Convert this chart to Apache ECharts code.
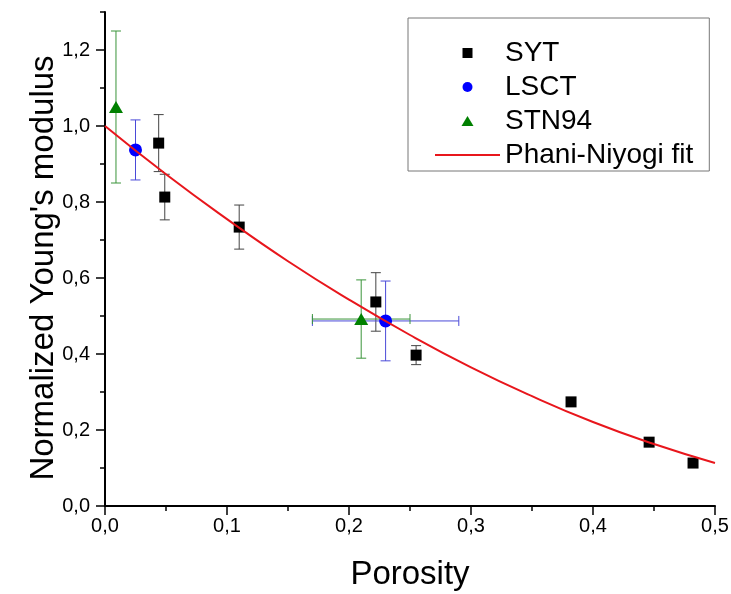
<!DOCTYPE html>
<html>
<head>
<meta charset="utf-8">
<script src="https://cdn.jsdelivr.net/npm/echarts@6/dist/echarts.min.js"></script>
<style>html,body{margin:0;padding:0;background:#fff}#c{width:731px;height:594px}</style>
</head>
<body>
<div id="c"></div>
<script>
// ---- data ----
const sytX = [0.044, 0.049, 0.110, 0.222, 0.255, 0.382, 0.446, 0.482];
const sytY = [0.955, 0.813, 0.734, 0.537, 0.397, 0.274, 0.168, 0.113];
const sytErrY = [0.075, 0.060, 0.058, 0.077, 0.025, 0, 0, 0];

const lsctX = [0.025, 0.230];
const lsctY = [0.937, 0.487];
const lsctErrY = [0.079, 0.105];
const lsctErrX = [0, 0.060];

const stnX = [0.009, 0.210];
const stnY = [1.050, 0.492];
const stnErrY = [0.200, 0.103];
const stnErrX = [0, 0.040];

const fitX = [0, 0.05, 0.10, 0.15, 0.20, 0.25, 0.30, 0.35, 0.40, 0.45, 0.50];
const fitY = [1.000, 0.873, 0.755, 0.644, 0.543, 0.450, 0.365, 0.289, 0.221, 0.163, 0.113];

const yMajorTicks = [0, 0.2, 0.4, 0.6, 0.8, 1.0, 1.2];
const yMinorTicks = [0.1, 0.3, 0.5, 0.7, 0.9, 1.1, 1.3];
const xMajorTicks = [0, 0.1, 0.2, 0.3, 0.4, 0.5];
const xMinorTicks = [0.05, 0.15, 0.25, 0.35, 0.45];

const seriesNames = ['SYT', 'LSCT', 'STN94', 'Phani-Niyogi fit'];

// ---- build ----
function zip(xs, ys) { return xs.map((x, i) => [x, ys[i]]); }
function errData(xs, ys, ey, ex) { return xs.map((x, i) => [x, ys[i], ey[i], ex ? ex[i] : 0]); }
const fmt = v => v.toFixed(1).replace('.', ',');
const FONT = '"Liberation Sans", Arial, sans-serif';

function errRender(color) {
  return function (params, api) {
    const x = api.value(0), y = api.value(1), ey = api.value(2), ex = api.value(3);
    const children = [];
    const style = { stroke: color, lineWidth: 1 };
    const cap = 5;
    if (ey > 0) {
      const top = api.coord([x, y + ey]);
      const bot = api.coord([x, y - ey]);
      children.push({ type: 'line', shape: { x1: top[0], y1: top[1], x2: bot[0], y2: bot[1] }, style });
      children.push({ type: 'line', shape: { x1: top[0] - cap, y1: top[1], x2: top[0] + cap, y2: top[1] }, style });
      children.push({ type: 'line', shape: { x1: bot[0] - cap, y1: bot[1], x2: bot[0] + cap, y2: bot[1] }, style });
    }
    if (ex > 0) {
      const l = api.coord([x - ex, y]);
      const r = api.coord([x + ex, y]);
      children.push({ type: 'line', shape: { x1: l[0], y1: l[1], x2: r[0], y2: r[1] }, style });
      children.push({ type: 'line', shape: { x1: l[0], y1: l[1] - cap, x2: l[0], y2: l[1] + cap }, style });
      children.push({ type: 'line', shape: { x1: r[0], y1: r[1] - cap, x2: r[0], y2: r[1] + cap }, style });
    }
    return { type: 'group', children };
  };
}

const legendIcons = [
  'path://M0,0L10,0L10,10L0,10Z',
  'path://M0,5A5,5,0,1,1,10,5A5,5,0,1,1,0,5Z',
  'path://M6,0L12,10L0,10Z',
  'path://M0,0L65,0L65,2L0,2Z'
];

const chart = echarts.init(document.getElementById('c'), null, { renderer: 'canvas' });
const axisLine = { show: true, lineStyle: { color: '#000', width: 2 } };
chart.setOption({
  animation: false,
  backgroundColor: '#fff',
  grid: { left: 105, right: 16, top: 12, bottom: 88, containLabel: false, outerBoundsMode: 'none' },
  legend: {
    data: seriesNames.map((n, i) => ({ name: n, icon: legendIcons[i] })),
    orient: 'vertical',
    left: 408, top: 18,
    padding: [21, 16, 2, 27],
    itemGap: 6,
    itemWidth: 65, itemHeight: 10,
    symbolKeepAspect: true,
    borderColor: '#777', borderWidth: 1,
    textStyle: { fontFamily: FONT, fontSize: 28, color: '#000' }
  },
  xAxis: [{
    type: 'value', min: 0, max: 0.5, interval: 0.1,
    splitLine: { show: false },
    axisLine,
    axisTick: { show: true, inside: false, length: 9, lineStyle: { color: '#000', width: 1.5 }, customValues: xMajorTicks },
    axisLabel: { margin: 10, fontFamily: FONT, fontSize: 20, color: '#000', formatter: fmt, customValues: xMajorTicks },
    name: 'Porosity', nameLocation: 'middle', nameGap: 52, nameMoveOverlap: false,
    nameTextStyle: { fontFamily: FONT, fontSize: 33, color: '#000' }
  }, {
    type: 'value', min: 0, max: 0.5, position: 'bottom',
    splitLine: { show: false }, axisLine: { show: false },
    axisTick: { show: true, length: 5, lineStyle: { color: '#000', width: 1.5 }, customValues: xMinorTicks },
    axisLabel: { show: false }
  }],
  yAxis: [{
    type: 'value', min: 0, max: 1.3,
    splitLine: { show: false },
    axisLine,
    axisTick: { show: true, length: 9, lineStyle: { color: '#000', width: 1.5 }, customValues: yMajorTicks },
    axisLabel: { margin: 15, fontFamily: FONT, fontSize: 20, color: '#000', formatter: fmt, customValues: yMajorTicks },
    name: "Normalized Young's modulus", nameLocation: 'middle', nameGap: 45, nameMoveOverlap: false,
    nameTextStyle: { fontFamily: FONT, fontSize: 33, color: '#000', padding: [0, 18, 0, 0] }
  }, {
    type: 'value', min: 0, max: 1.3, position: 'left',
    splitLine: { show: false }, axisLine: { show: false },
    axisTick: { show: true, length: 5, lineStyle: { color: '#000', width: 1.5 }, customValues: yMinorTicks },
    axisLabel: { show: false }
  }],
  series: [
    { type: 'custom', renderItem: errRender('#444'), data: errData(sytX, sytY, sytErrY), encode: { x: 0, y: 1 }, z: 2, silent: true },
    { type: 'custom', renderItem: errRender('#4a4ad8'), data: errData(lsctX, lsctY, lsctErrY, lsctErrX), encode: { x: 0, y: 1 }, z: 2, silent: true },
    { type: 'custom', renderItem: errRender('#3a943a'), data: errData(stnX, stnY, stnErrY, stnErrX), encode: { x: 0, y: 1 }, z: 2, silent: true },
    { name: 'SYT', type: 'scatter', symbol: 'rect', symbolSize: 11, itemStyle: { color: '#000', opacity: 1 }, data: zip(sytX, sytY), z: 3 },
    { name: 'LSCT', type: 'scatter', symbol: 'circle', symbolSize: 13, itemStyle: { color: '#0000ff', opacity: 1 }, data: zip(lsctX, lsctY), z: 3 },
    { name: 'STN94', type: 'scatter', symbol: 'triangle', symbolSize: [14, 12], itemStyle: { color: '#008000', opacity: 1 }, data: zip(stnX, stnY), z: 3 },
    { name: 'Phani-Niyogi fit', type: 'line', smooth: true, showSymbol: false, symbol: 'none',
      lineStyle: { color: '#e8161c', width: 2 }, itemStyle: { color: '#e8161c' }, data: zip(fitX, fitY), z: 4 }
  ]
});
</script>
</body>
</html>
